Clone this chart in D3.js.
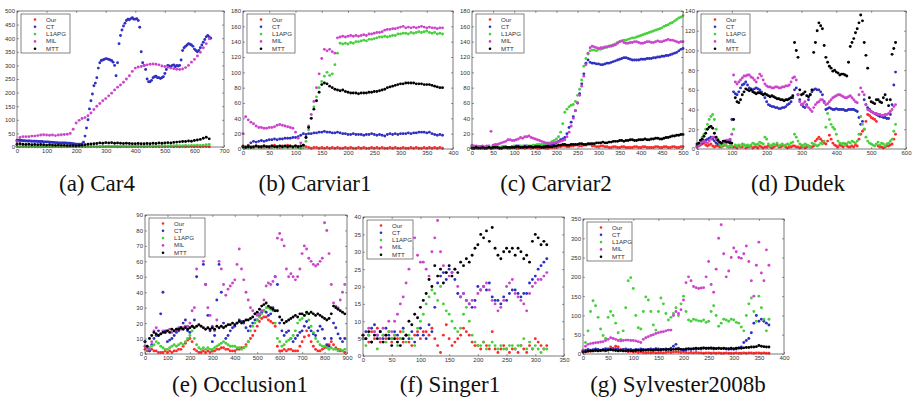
<!DOCTYPE html>
<html>
<head>
<meta charset="utf-8">
<script src="https://cdn.jsdelivr.net/npm/d3@7"></script>
<style>
  body { margin: 0; background: #fff; }
  .tick text { font-family: "Liberation Sans", Arial, sans-serif; font-size: 6px; fill: #333; }
  .tick line { stroke: #555; stroke-width: 0.6; }
</style>
</head>
<body>
<script>
// tracker names + colours, same order in every panel
var trackers = ["Our", "CT", "L1APG", "MIL", "MTT"]
var colors = ["#ff2b2b", "#2f2fc0", "#45d03c", "#cc44cc", "#000000"]

// (a) Car4, one value every 10 frames (CT every 5)
var car4XTicks = [0, 100, 200, 300, 400, 500, 600, 700]
var car4YTicks = [0, 50, 100, 150, 200, 250, 300, 350, 400, 450, 500]
var car4Our = [2,1,2,1,1,2,1,2,1,1, 2,1,1,2,1,1,2,1,2,1, 1,2,1,1,2,1,2,1,1,2, 1,2,1,2,1,1,2,1,2,1, 2,1,2,1,2,2,1,2,1,2, 1,2,2,1,2,1,2,1,2,2, 1,2,1,2,2,1]
var car4CT = [25,25,24,24,23,23,22,22,22,22, 21,21,21,21,20,20,20,20,19,19, 19,19,18,18,17,17,16,16,15,15, 15,15,15,15,14,14,14,13,12,11,
  10,10,10,9,12,18,40,70,100,140, 170,195,225,235,255,290,310,318,320,322, 325,324,322,320,318,312,300,262,310,380,
  410,430,445,455,465,470,468,472,475,470, 470,472,465,440,350,310,300,285,250,240, 240,245,255,258,260,255,255,252,255,258,
  270,285,300,298,295,300,302,295,300,298, 300,320,355,365,370,375,380,378,375,370, 360,355,350,355,365,375,385,395,405,410, 405,400]
var car4L1APG = [1,1,1,2,1,1,2,1,1,2, 1,2,1,1,2,1,1,2,1,1, 2,1,2,2,1,2,2,1,2,2, 2,3,2,2,3,2,3,2,3,3, 3,4,3,4,4,3,4,5,4,5, 5,4,5,5,6,5,5,6,5,6, 6,7,6,7,8,9]
var car4MIL = [20,35,38,38,38,40,40,42,44,45, 44,43,44,42,44,45,46,47,50,65, 88,98,105,108,115,125,138,150,160,170, 178,188,198,210,220,228,238,250,262,278, 290,294,296,300,302,304,305,304,302,298, 296,293,290,288,286,285,287,292,300,312, 322,335,348,365,380,398]
var car4MTT = [10,12,10,9,10,8,9,8,9,8, 7,8,7,6,7,6,6,5,5,5, 4,5,6,8,10,11,12,13,15,14, 16,15,16,14,15,14,13,14,13,12, 12,13,12,12,13,12,14,13,15,14, 15,16,15,17,18,19,20,20,22,21, 24,26,28,32,36,30]

// (b) Carviar1, every 5 frames
var carv1XTicks = [0, 50, 100, 150, 200, 250, 300, 350, 400]
var carv1YTicks = [0, 20, 40, 60, 80, 100, 120, 140, 160, 180]
var carv1Our = [4,3,5,3,2,4,3,2,4,3, 2,4,5,3,2,4,3,5,3,2, 4,3,2,4,3,2,1,2,2,1, 2,1,2,1,2,1,2,1,1,2, 1,2,1,1,2,1,2,1,1,2, 1,2,1,2,1,1,2,1,2,1, 1,2,1,1,2,1,2,1,1,2, 1,2,1,2,1,2,1]
var carv1CT = [3,2,4,8,10,9,10,11,10,11, 12,12,13,12,13,13,14,14,14,15, 15,16,18,20,19,20,20,21,21,22, 22,23,22,22,21,21,22,21,20,20, 19,19,20,19,19,19,18,19,19,20, 19,18,19,18,17,19,20,19,20,19, 20,20,20,21,20,21,21,22,22,22, 21,22,20,19,18,19,18]
var carv1L1APG = [2,3,2,3,2,3,2,3,2,3, 3,2,3,2,3,2,3,2,3,2, 3,2,1,2,10,25,40,55,68,80, 88,95,100,96,98,110,125,138,137,138, 137,139,138,140,140,141,142,141,143,143, 144,145,146,146,147,146,147,148,148,150, 150,151,151,150,152,151,152,153,152,153, 154,152,151,152,150,151,150]
var carv1MIL = [20,42,38,35,33,30,28,28,27,27, 28,28,29,31,32,31,30,29,28,27, 22,14,8,5,15,30,45,62,80,98, 118,130,128,130,127,125,145,146,147,146, 147,148,147,148,147,148,149,148,150,150, 151,152,152,153,155,156,156,157,157,158, 159,160,158,159,158,159,158,159,160,159, 158,159,158,158,157,158,158]
var carv1MTT = [3,2,3,2,3,4,3,3,4,3, 3,4,3,3,4,3,4,3,4,3, 4,3,4,5,15,28,40,52,63,74, 84,86,85,82,80,78,77,76,77,75, 74,73,73,73,72,73,73,73,74,74, 75,75,76,77,78,80,81,82,83,84, 85,85,86,86,86,86,85,85,85,84, 84,84,83,82,81,80,80]

// (c) Carviar2, every 5 frames
var carv2XTicks = [0, 50, 100, 150, 200, 250, 300, 350, 400, 450, 500]
var carv2YTicks = [0, 20, 40, 60, 80, 100, 120, 140, 160, 180]
var carv2Our = [2,1,1,2,2,1,1,2,2,1, 1,2,2,1,1,2,2,1,1,2, 2,1,1,2,2,1,2,2,1,2, 2,1,1,2,2,1,1,2,2,2,
  2,3,3,4,4,3,3,4,4,5, 5,4,4,5,5,6,6,4,4,3, 3,4,4,3,3,2,2,3,3,2, 2,3,3,2,2,2,2,3,3,2,
  2,3,3,2,2,2,2,3,3,2, 2,3,3,2,2,3,3,2,2,3, 3]
var carv2CT = [3,2,2,3,3,2,2,3,3,2, 2,3,3,2,2,3,3,2,2,3, 3,4,4,3,3,4,4,3,3,4, 4,3,3,4,4,5,5,6,6,7,
  8,10,12,13,15,20,28,35,42,50, 60,72,85,98,112,116,113,112,112,111, 111,110,110,111,112,112,113,114,115,116,
  117,118,119,119,118,117,116,116,116,116, 117,117,117,118,118,118,119,119,120,120, 121,121,122,122,123,124,125,126,128,130, 131]
var carv2L1APG = [3,2,2,3,3,2,2,3,3,2, 2,3,3,2,3,3,3,2,2,3, 4,3,3,4,4,3,3,4,4,5, 5,6,6,6,7,7,8,8,10,11,
  13,16,22,33,48,52,55,57,58,62, 70,78,90,108,118,124,128,129,129,128, 130,130,131,132,133,134,135,136,137,139,
  140,141,142,142,143,144,145,145,146,147, 148,149,150,151,152,153,154,155,156,157, 158,160,161,162,164,165,167,169,171,172, 174]
var carv2MIL = [5,4,4,3,3,4,3,4,4,23, 5,6,6,7,8,9,10,12,12,11, 11,12,13,15,14,16,16,17,15,14, 13,12,11,10,9,8,7,7,8,8,
  9,9,10,11,12,16,22,30,40,50, 60,70,82,95,110,125,132,134,133,132, 131,132,132,133,133,134,134,135,136,138,
  140,141,139,138,138,139,139,140,140,139, 138,138,139,140,140,139,139,140,141,140, 140,141,142,143,142,142,141,140,139,140, 140]
var carv2MTT = [1,1,2,1,1,2,1,1,2,1, 2,2,2,1,1,2,2,2,2,2, 2,3,3,2,2,3,2,3,3,2, 3,3,3,2,2,3,3,3,3,4,
  4,5,5,6,6,5,5,6,6,6, 6,7,7,6,6,7,7,7,7,8, 8,8,9,8,8,9,9,10,10,10,
  11,11,10,11,11,12,12,11,11,12, 12,12,13,12,12,13,13,14,14,13, 13,14,15,15,16,17,17,18,18,19, 19]

// (d) Dudek, every 5 frames
var dudekXTicks = [0, 100, 200, 300, 400, 500, 600]
var dudekYTicks = [0, 20, 40, 60, 80, 100, 120, 140]
var dudekOur = [2,3,4,5,6,4,3,4,5,3, 2,3,3,2,2,3,4,3,2,2, 3,2,2,1,3,2,2,4,1,2, 2,3,1,2,2,1,3,2,1,2, 2,3,2,1,2,3,4,2,2,3, 3,2,1,2,2,3,3,2,2,1,
  2,3,1,2,3,2,2,3,8,10, 12,10,8,6,5,8,14,10,6,4, 3,2,4,3,2,5,3,2,2,3, 2,4,3,10,15,18,20,28,35,34, 32,31,30,28,3,2,2,1,2,3, 3,4,5,10,15]
var dudekCT = [3,4,5,6,8,9,10,11,12,10, 8,6,5,5,5,6,6,7,7,8, 30,58,56,55,58,62,65,66,68,65, 62,61,60,61,62,61,60,58,55,52, 48,45,44,43,43,42,42,41,41,42, 42,43,45,46,48,52,60,62,55,50,
  45,43,42,45,50,55,58,60,61,60, 60,58,55,48,40,41,42,41,40,40, 41,40,40,40,40,39,39,40,40,40, 40,39,38,32,25,28,50,45,42,40, 38,37,36,35,34,33,33,32,32,31, 31,35,45,65,78]
var dudekL1APG = [2,4,8,12,15,20,25,30,33,35, 30,20,10,5,3,4,5,3,2,3, 3,20,4,3,4,3,5,4,3,4, 3,4,6,5,4,5,7,6,5,12, 10,5,3,4,5,4,6,3,4,5, 3,4,5,4,6,7,15,12,8,5,
  4,3,5,4,3,2,6,5,4,3, 4,6,5,8,22,36,30,25,22,20, 15,8,6,5,6,4,5,7,6,8, 7,6,8,15,33,25,20,12,8,6, 5,4,3,5,7,4,6,5,3,5, 6,8,10,18,25]
var dudekMIL = [2,3,5,7,8,7,6,8,10,12, 12,10,8,7,6,7,8,9,9,10, 15,75,68,66,68,70,72,74,74,75, 75,73,72,70,68,72,76,74,70,66, 64,63,63,62,62,63,63,62,62,63, 63,64,64,65,68,72,73,70,55,48,
  45,46,48,44,42,40,38,42,45,47, 48,50,50,47,45,46,48,50,52,53, 54,55,55,54,53,52,52,53,54,52, 50,48,47,55,62,58,55,45,40,39, 38,37,36,36,35,35,34,34,35,35, 36,38,40,43,45]
var dudekMTT = [5,6,9,10,13,16,20,22,23,21, 16,12,9,7,6,8,8,7,7,6, 6,30,52,48,47,50,55,58,61,60, 59,60,58,57,56,57,57,56,55,56, 55,54,53,54,53,52,51,51,50,50, 49,50,50,51,52,54,108,100,93,60,
  55,56,58,54,53,55,60,98,108,120, 128,125,122,105,93,88,84,82,79,80, 78,77,75,76,76,75,74,88,104,108, 112,118,122,128,136,130,108,95,82,52, 48,47,46,50,50,48,47,52,55,50, 44,50,96,102,108]

// (e) Occlusion1, every 10 frames
var occXTicks = [0, 100, 200, 300, 400, 500, 600, 700, 800, 900]
var occYTicks = [0, 10, 20, 30, 40, 50, 60, 70, 80, 90]
var occOur = [3,2,2,3,2,2,1,1,1,2, 1,2,1,2,2,3,3,5,7,9, 10,8,3,2,1,1,2,1,2,1, 2,2,3,3,4,4,3,3,2,2, 2,3,3,4,4,6,8,10,12,15,
  18,21,23,24,24,22,21,20,18,5, 2,2,3,2,3,3,2,2,2,5, 8,11,15,12,8,5,3,2,2,3, 4,5,6,8,6,4,3,2,2,1]
var occCT = [8,4,2,6,10,12,15,26,40,15, 8,9,10,12,14,15,17,20,22,15, 14,18,22,50,82,75,58,45,25,15, 8,12,35,58,40,20,10,12,15,17, 18,20,22,21,20,17,15,18,20,22,
  22,25,27,28,27,25,26,30,50,45, 20,15,12,14,15,10,8,10,12,14, 15,18,21,17,15,13,12,15,18,16, 10,6,5,10,20,17,13,10,8,10]
var occL1APG = [5,3,4,5,6,8,7,5,4,3, 3,4,5,6,5,6,7,6,8,10, 12,15,10,6,4,3,4,3,4,3, 3,4,5,6,7,8,7,6,5,5, 5,4,4,3,4,5,8,15,18,20,
  22,24,26,28,30,30,29,28,20,10, 8,5,6,8,9,10,12,15,20,22, 23,25,26,22,18,14,10,8,6,5, 5,4,3,4,3,3,2,3,2,3]
var occMIL = [5,4,3,8,15,17,12,13,15,14, 15,16,14,15,16,17,16,17,18,18, 20,28,30,55,85,65,60,45,30,25, 18,15,22,60,55,45,38,42,44,46, 48,58,68,55,48,40,35,30,28,26,
  25,26,28,35,44,46,45,47,50,75, 78,74,70,55,50,52,50,48,50,55, 65,70,68,62,60,58,57,58,60,62, 85,80,65,45,33,31,30,35,40,45]
var occMTT = [8,5,10,12,14,13,12,13,14,14, 15,14,16,15,16,16,17,16,17,16, 17,18,17,18,19,18,17,16,17,16, 17,16,18,17,18,17,18,19,19,20, 19,20,21,20,21,22,22,23,24,26,
  27,29,31,32,33,31,30,29,28,28, 24,22,20,21,22,23,24,25,24,26, 26,25,27,26,27,26,25,26,25,24, 23,22,23,26,31,30,29,28,27,26]

// (f) Singer1, every 5 frames
var singXTicks = [0, 50, 100, 150, 200, 250, 300, 350]
var singYTicks = [0, 5, 10, 15, 20, 25, 30, 35, 40]
var singOur = [6,5,4,7,5,8,4,6,5,7, 4,6,5,7,4,6,4,3,6,7, 5,7,7,6,8,5,3,1,6,9, 5,3,4,5,6,8,7,6,4,3, 3,2,4,3,2,7,2,1,2,3, 2,1,2,2,1,3,2,1,3,2, 5,4,3,2,3]
var singCT = [5,7,6,8,9,6,7,5,8,6, 5,7,6,5,8,6,5,7,4,6, 8,6,5,9,7,14,21,23,24,22, 25,24,22,18,17,18,16,15,14,16, 20,19,20,19,21,17,16,16,15,17, 16,18,19,19,18,17,18,18,21,22, 23,25,26,27,28]
var singL1APG = [5,3,6,4,7,2,5,6,4,7, 5,6,3,5,7,4,6,5,3,8, 10,12,15,17,19,18,16,20,15,13, 12,10,8,7,8,12,14,10,6,4, 3,3,4,2,3,4,3,2,3,2, 2,3,3,2,3,3,5,2,4,2, 3,2,1,2,2]
var singMIL = [6,5,8,4,7,6,5,8,6,10, 7,10,12,15,17,21,25,31,34,29, 27,27,25,23,30,34,39,30,26,24, 23,24,25,20,17,18,16,15,16,14, 18,19,20,21,19,16,15,13,14,16, 20,21,22,18,17,16,15,13,18,20, 21,22,22,23,24]
var singMTT = [6,5,7,4,6,5,7,4,6,5, 3,5,4,3,5,6,10,9,12,11, 14,16,18,22,20,26,23,25,21,24, 26,23,25,24,27,26,28,27,29,31, 32,35,34,36,33,37,31,29,28,30, 31,30,31,29,31,30,28,29,27,33, 35,34,32,33,32]

// (g) Sylvester2008b, every 5 frames
var sylXTicks = [0, 50, 100, 150, 200, 250, 300, 350, 400]
var sylYTicks = [0, 50, 100, 150, 200, 250, 300, 350]
var sylOur = [5,6,8,7,8,9,10,9,10,8, 12,18,15,20,18,12,10,8,6,7, 5,6,4,5,4,3,4,3,4,3, 3,4,3,4,5,4,5,6,5,4, 5,4,3,4,3,4,3,3,2,3, 3,2,3,2,3,2,2,3,2,2, 2,3,2,2,3,2,3,3,2,3, 3,2,3,2,2]
var sylCT = [8,10,12,10,11,13,12,10,12,14, 13,12,11,13,12,10,12,13,11,12, 10,12,11,13,12,11,12,13,12,14, 13,12,11,13,12,15,20,25,15,12, 10,11,12,12,13,12,14,13,15,14, 15,14,13,14,15,14,14,13,12,13, 12,13,15,18,30,35,40,55,80,100, 85,90,85,80,75]
var sylL1APG = [8,30,60,110,138,125,95,65,48,40, 95,110,100,80,55,38,60,120,190,198, 170,100,68,65,110,148,140,110,75,62, 110,145,130,105,88,95,105,120,100,130, 150,110,88,85,90,88,86,85,88,82, 85,110,125,100,72,80,90,88,85,90, 88,82,80,70,60,100,130,145,110,85, 150,120,90,60,90]
var sylMIL = [10,20,25,27,28,29,30,31,32,35, 38,42,40,38,35,34,35,36,36,35, 35,34,32,30,38,42,45,48,50,53, 55,57,58,60,62,62,100,110,105,115, 140,185,200,190,175,172,170,171,172,200, 240,180,160,220,300,335,260,200,215,250, 275,265,250,248,260,280,240,190,150,230, 290,210,190,270,230]
var sylMTT = [5,6,7,8,8,9,8,9,10,9, 10,11,10,9,8,9,8,8,9,8, 8,9,10,9,10,10,11,10,10,11, 10,11,12,11,12,11,12,13,12,12, 12,13,14,13,14,15,14,15,16,15, 15,16,15,14,15,14,15,14,14,15, 14,15,16,15,16,17,17,18,18,19, 22,20,19,18,18]

var svg = d3.select("body").append("svg")
    .attr("width", 916)
    .attr("height", 401)

// panel table: box = [left, top, right, bottom] in px, steps = frames between samples per tracker
var panels = [
  {cap: "(a) Car4", box: [17, 11, 224, 147], xMax: 700, yMax: 500, xt: car4XTicks, yt: car4YTicks, steps: [10, 5, 10, 10, 10],
   data: [car4Our, car4CT, car4L1APG, car4MIL, car4MTT], capX: 97, capY: 191, legW: 49},
  {cap: "(b) Carviar1", box: [243, 11, 453, 149], xMax: 400, yMax: 180, xt: carv1XTicks, yt: carv1YTicks, steps: [5, 5, 5, 5, 5],
   data: [carv1Our, carv1CT, carv1L1APG, carv1MIL, carv1MTT], capX: 315, capY: 191, legW: 48},
  {cap: "(c) Carviar2", box: [472, 11, 683, 149], xMax: 500, yMax: 180, xt: carv2XTicks, yt: carv2YTicks, steps: [5, 5, 5, 5, 5],
   data: [carv2Our, carv2CT, carv2L1APG, carv2MIL, carv2MTT], capX: 556, capY: 191, legW: 48},
  {cap: "(d) Dudek", box: [697, 11, 906, 149], xMax: 600, yMax: 140, xt: dudekXTicks, yt: dudekYTicks, steps: [5, 5, 5, 5, 5],
   data: [dudekOur, dudekCT, dudekL1APG, dudekMIL, dudekMTT], capX: 798, capY: 191, legW: 49},
  {cap: "(e) Occlusion1", box: [145, 215, 347, 354], xMax: 900, yMax: 90, xt: occXTicks, yt: occYTicks, steps: [10, 10, 10, 10, 10],
   data: [occOur, occCT, occL1APG, occMIL, occMTT], capX: 240, capY: 392, legW: 56},
  {cap: "(f) Singer1", box: [363, 217, 564, 356], xMax: 350, yMax: 40, xt: singXTicks, yt: singYTicks, steps: [5, 5, 5, 5, 5],
   data: [singOur, singCT, singL1APG, singMIL, singMTT], capX: 450, capY: 392, legW: 46},
  {cap: "(g) Sylvester2008b", box: [583, 219, 784, 354], xMax: 400, yMax: 350, xt: sylXTicks, yt: sylYTicks, steps: [5, 5, 5, 5, 5],
   data: [sylOur, sylCT, sylL1APG, sylMIL, sylMTT], capX: 678, capY: 392, legW: 45}
]

panels.forEach(function(p) {
  var x0 = p.box[0], y0 = p.box[1], x1 = p.box[2], y1 = p.box[3]
  var x = d3.scaleLinear().domain([0, p.xMax]).range([x0, x1])
  var y = d3.scaleLinear().domain([0, p.yMax]).range([y1, y0])
  var g = svg.append("g")

  // inward ticks on all four sides, labels only bottom/left
  g.append("g").attr("transform", "translate(0," + y1 + ")")
      .call(d3.axisBottom(x).tickValues(p.xt).tickSize(-2).tickSizeOuter(0).tickPadding(2))
  g.append("g").attr("transform", "translate(" + x0 + ",0)")
      .call(d3.axisLeft(y).tickValues(p.yt).tickSize(-2).tickSizeOuter(0).tickPadding(2))
  g.append("g").attr("transform", "translate(0," + y0 + ")")
      .call(d3.axisTop(x).tickValues(p.xt).tickSize(-2).tickSizeOuter(0).tickFormat(""))
  g.append("g").attr("transform", "translate(" + x1 + ",0)")
      .call(d3.axisRight(y).tickValues(p.yt).tickSize(-2).tickSizeOuter(0).tickFormat(""))
  g.selectAll(".domain").remove()

  // points, MTT drawn last
  p.data.forEach(function(vals, si) {
    var step = p.steps[si]
    g.append("g").selectAll("circle")
      .data(vals)
      .enter().append("circle")
      .attr("cx", function(d, i) { return x(i * step) })
      .attr("cy", function(d) { return y(d) })
      .attr("r", 1.45)
      .attr("fill", colors[si])
  })

  g.append("rect")
    .attr("x", x0).attr("y", y0)
    .attr("width", x1 - x0).attr("height", y1 - y0)
    .attr("fill", "none")
    .attr("stroke", "#444")
    .attr("stroke-width", 0.7)

  // legend
  var lx = x0 + 4, ly = y0 + 3
  var leg = g.append("g")
  leg.append("rect")
    .attr("x", lx).attr("y", ly)
    .attr("width", p.legW).attr("height", 39)
    .attr("fill", "#fff")
    .attr("stroke", "#333")
    .attr("stroke-width", 0.6)
  trackers.forEach(function(name, i) {
    var ry = ly + 5.5 + i * 7.3
    leg.append("circle")
      .attr("cx", lx + 14).attr("cy", ry)
      .attr("r", 1.3)
      .attr("fill", colors[i])
    leg.append("text")
      .attr("x", lx + 25).attr("y", ry + 2)
      .style("font-family", "'Liberation Sans', Arial, sans-serif")
      .style("font-size", "6.2px")
      .style("fill", "#333")
      .text(name)
  })

  svg.append("text")
    .attr("x", p.capX).attr("y", p.capY)
    .attr("text-anchor", "middle")
    .style("font-family", "'Liberation Serif', 'Times New Roman', serif")
    .style("font-size", "23px")
    .style("fill", "#111")
    .text(p.cap)
})
</script>
</body>
</html>
